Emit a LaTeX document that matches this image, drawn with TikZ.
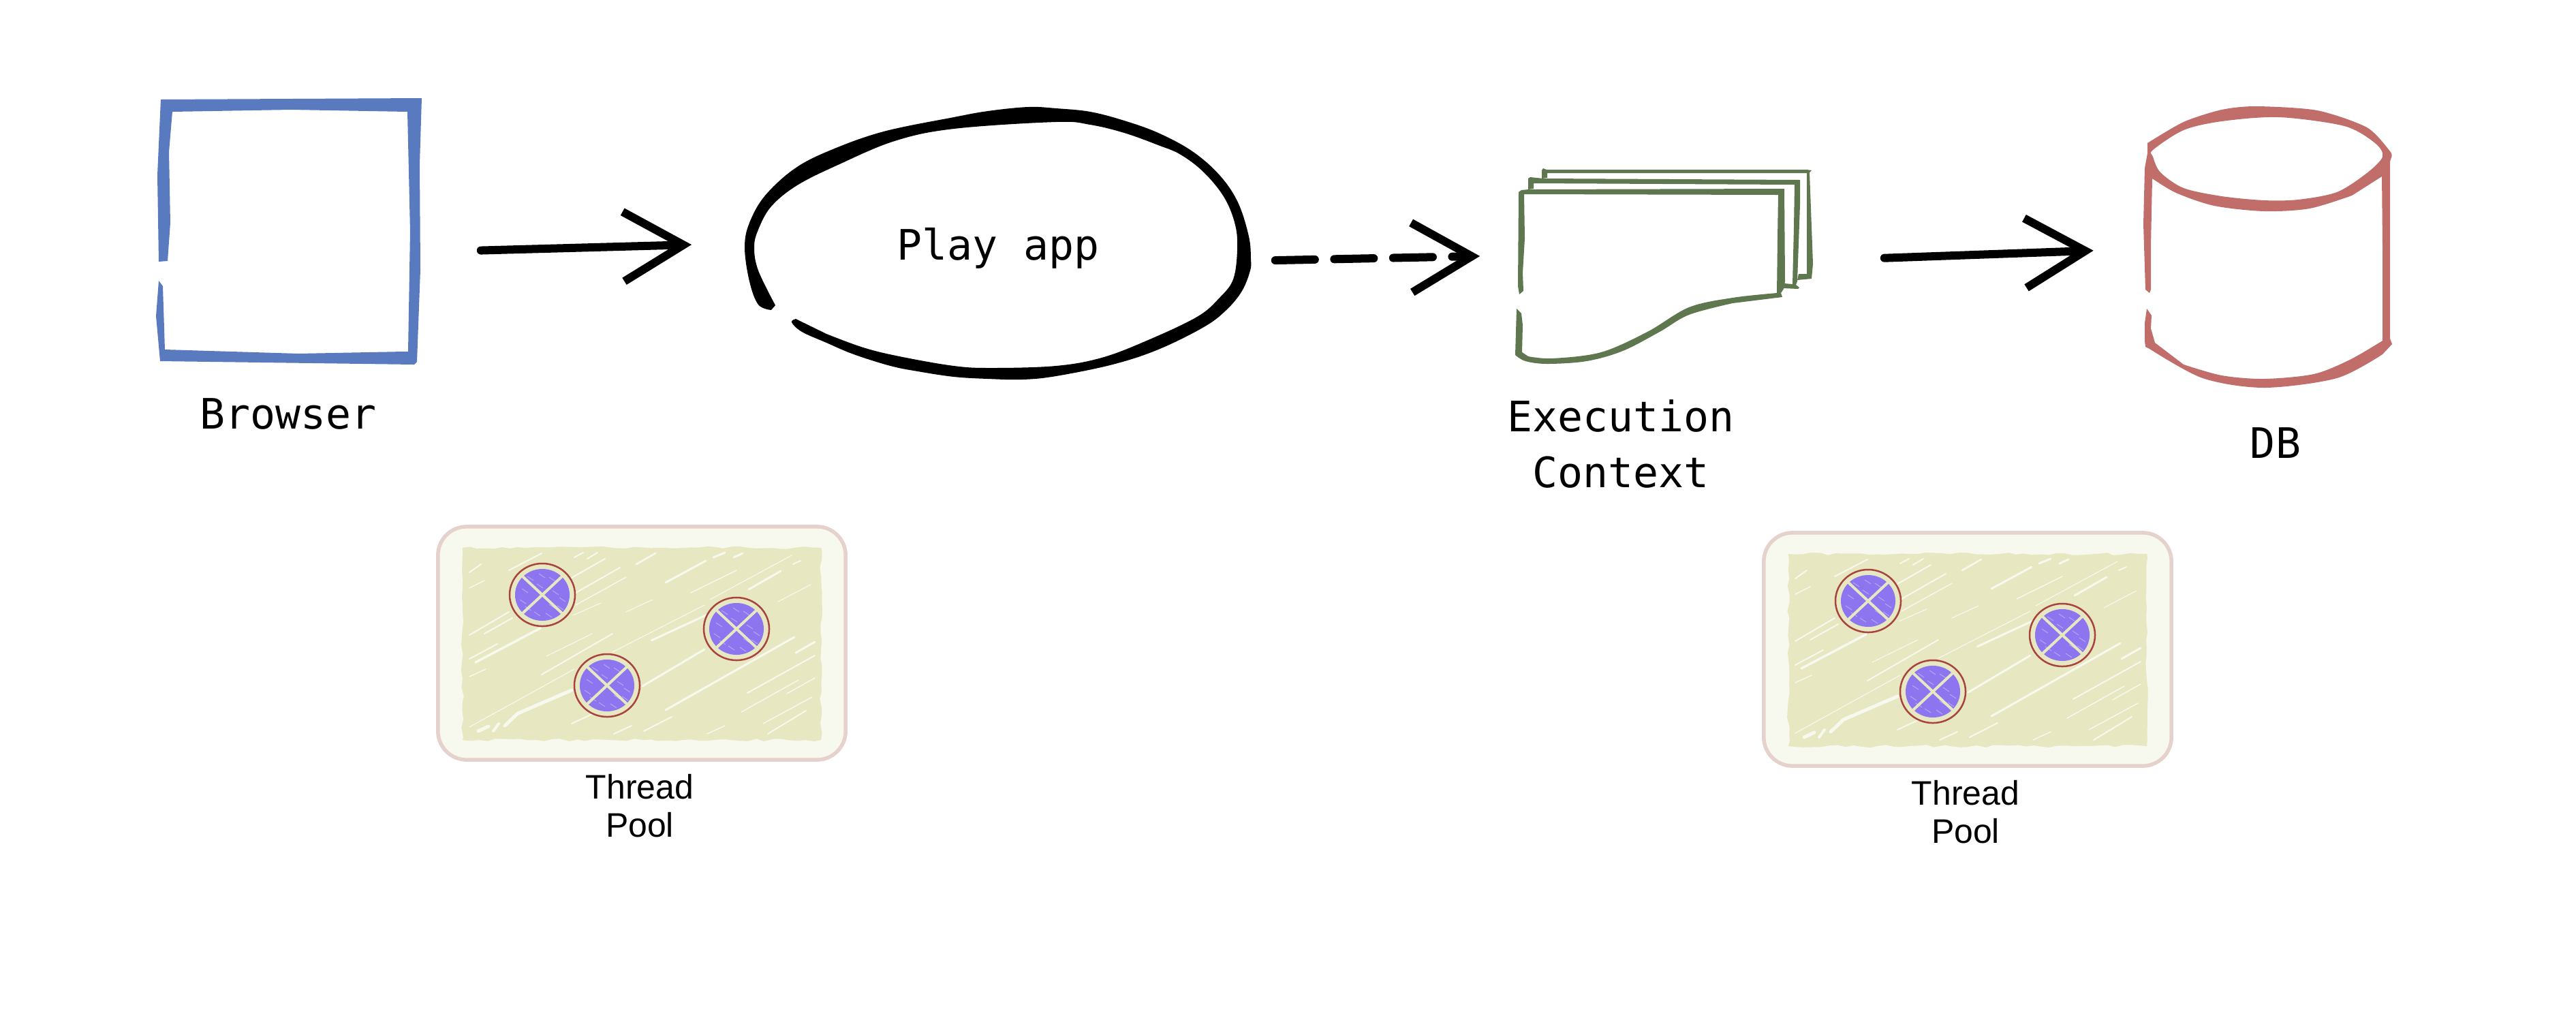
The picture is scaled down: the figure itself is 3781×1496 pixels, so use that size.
\documentclass[tikz,border=0pt]{standalone}
\usepackage{fontspec}
\usetikzlibrary{arrows.meta}
\usetikzlibrary{calc}
\usetikzlibrary{shapes.geometric}
\usetikzlibrary{decorations.pathmorphing}
\newfontfamily\monofnt{DejaVu Sans Mono}
\newfontfamily\helvfnt{Liberation Sans}
\definecolor{brblue}{HTML}{5A7ABF}
\definecolor{ecgreen}{HTML}{5E774E}
\definecolor{dbred}{HTML}{C16E6B}
\definecolor{poolline}{HTML}{E5D2CC}
\definecolor{poolfill}{HTML}{F7F9EE}
\definecolor{hatchfill}{HTML}{E7E7C1}
\definecolor{thrline}{HTML}{A8433D}
\definecolor{thrfill}{HTML}{8C75EE}
\definecolor{thrhatch}{HTML}{AFA1F4}
\tikzstyle{shp}=[inner sep=0pt]
\tikzstyle{lbl}=[inner sep=0pt,anchor=base,align=center,font=\monofnt\fontsize{17.5}{23.3}\selectfont]
\tikzstyle{cptn}=[inner sep=0pt,align=center,font=\helvfnt\fontsize{14.2}{15.9}\selectfont]
\tikzstyle{pool}=[shape=rectangle,draw=poolline,fill=poolfill,line width=.055cm,rounded corners=.42cm,inner sep=0pt,minimum width=5.98cm,minimum height=3.42cm]
\tikzstyle{hatch}=[shape=rectangle,fill=hatchfill,inner sep=0pt,minimum width=5.26cm,minimum height=2.82cm,decorate,decoration={random steps,segment length=.12cm,amplitude=.02cm}]
\tikzstyle{thr}=[shape=ellipse,draw=thrline,fill=hatchfill,line width=.025cm,inner sep=0pt,minimum width=.96cm,minimum height=.92cm]
\tikzstyle{dsk}=[shape=ellipse,fill=thrfill,inner sep=0pt,minimum width=.8cm,minimum height=.76cm]
\tikzstyle{crs}=[draw=hatchfill,line width=.04cm,shorten >=-.02cm,shorten <=-.02cm]
\tikzstyle{tran}=[draw,->,>={Straight Barb[length=.88cm,width=1.02cm]},line width=.12cm,line cap=round]
\newcommand{\scratches}{0.35/698/972/793/922,0.2/689/967/730/945,0.2/689/932/747/898,0.2/711/930/752/907,0.2/747/837/795/812,0.2/689/840/706/828,0.15/689/863/711/852,0.15/689/993/713/982,0.2/839/848/888/820,0.2/845/870/910/833,0.15/845/888/919/847,0.12/841/903/882/885,0.25/934/828/962/812,0.3/977/855/1036/823,0.15/1014/870/1081/837,0.3/1099/865/1146/838,0.12/1042/880/1162/815,0.12/919/898/958/880,0.3/956/940/1038/902,0.12/899/957/1034/888,0.12/802/963/869/930,0.2/795/990/899/930,0.12/689/1067/843/982,0.5/741/1065/760/1047,0.5/760/1047/839/1013,0.3/943/1007/1034/953,0.3/977/1042/1166/935,0.2/1097/1017/1196/962,0.15/1088/1045/1172/998,0.15/1155/1018/1196/995,0.15/1120/1062/1192/1023,0.2/1127/1077/1183/1043,0.2/945/1073/986/1052,0.2/839/1062/869/1048,0.2/901/1077/927/1065,0.15/1038/1077/1064/1065,0.3/1168/958/1196/942,0.12/1142/883/1190/858,0.2/1164/828/1175/823,0.3/1047/818/1064/811,0.3/1077/818/1090/812,0.2/843/818/856/811,0.2/862/820/877/811,0.5/702/1073/717/1066,0.4/724/1073/732/1062}

\begin{document}
\begin{tikzpicture}[x=.01cm,y=-.01cm]
\useasboundingbox (0,0) rectangle (3781,1496);
\pgfmathsetseed{42}

% places the connectors run between
\node[shp,shape=rectangle,minimum width=3.78cm,minimum height=3.91cm] (browser) at (424,340) {};
\node[shp,shape=ellipse,minimum width=7.44cm,minimum height=4cm] (play) at (1464,357) {};
\node[shp,shape=rectangle,minimum width=4.34cm,minimum height=2.87cm] (exec) at (2444,390) {};
\node[shp,shape=rectangle,minimum width=3.65cm,minimum height=4.13cm] (db) at (3328,362) {};

% browser
\fill[brblue] (233,384) -- (231,257) -- (236,146) -- (619,144) -- (616,241) -- (617,396) -- (612,531) -- (608,535) -- (235,530) -- (229,464) -- (233,412)
 -- (239,420) -- (242,513) -- (438,519) -- (593,516) -- (599,516) -- (602,340) -- (598,164) -- (427,161) -- (253,164) -- (248,223) -- (250,327) -- (246,383) -- cycle;

% play app
\fill[black] plot[smooth,tension=.6] coordinates {(1132,455) (1113,447) (1100,413) (1093,363) (1100,327) (1123,287) (1167,247) (1220,220) (1297,193) (1400,172) (1450,163) (1509,157) (1550,159) (1600,164) (1650,177) (1700,195) (1750,222) (1790,257) (1817,297) (1833,347) (1836,380) (1835,397) (1823,427) (1800,455) (1767,480) (1700,513) (1633,535) (1550,552) (1501,557) (1450,556) (1400,553) (1347,545) (1307,537) (1253,520) (1213,503) (1177,487) (1162,473) (1168,468)}
 -- plot[smooth,tension=.6] coordinates {(1213,490) (1267,510) (1320,523) (1400,537) (1456,540) (1550,537) (1617,525) (1683,500) (1757,465) (1790,437) (1810,410) (1816,367) (1813,330) (1797,290) (1767,253) (1733,227) (1700,213) (1650,195) (1600,183) (1550,179) (1400,189) (1313,207) (1230,242) (1170,272) (1132,303) (1113,337) (1107,363) (1113,397) (1138,448)} -- cycle;

% execution context, back to front
\fill[ecgreen] (2263,262) -- (2263,250) -- (2265,247) -- (2270,249) -- (2652,249) -- (2659,250) -- (2656,253) -- (2661,387) -- (2659,409) -- (2638,411) -- (2640,402) -- (2652,402) -- (2652,333) -- (2652,254) -- (2271,254) -- (2271,261) -- cycle;
\fill[ecgreen] (2243,278) -- (2243,262) -- (2246,260) -- (2265,262) -- (2642,264) -- (2642,300) -- (2638,413) -- (2636,418) -- (2641,422) -- (2639,424) -- (2618,423) -- (2619,416) -- (2631,417) -- (2633,333) -- (2634,271) -- (2251,269) -- (2251,277) -- cycle;
\fill[ecgreen] (2230,432) -- (2228,420) -- (2229,282) -- (2233,279) -- (2244,278) -- (2619,277) -- (2620,413) -- (2618,424) -- (2614,430) -- (2616,436)
 -- plot[smooth,tension=.55] coordinates {(2543,445) (2479,462) (2436,487) (2382,515) (2329,530) (2271,534) (2239,530) (2224,521)}
 -- (2226,453) -- (2233,460) -- (2235,477) -- (2234,517)
 -- plot[smooth,tension=.55] coordinates {(2243,523) (2279,526) (2350,517) (2418,487) (2479,451) (2543,437) (2608,430)}
 -- (2609,350) -- (2610,286) -- (2237,285) -- (2238,350) -- (2235,400) -- (2236,427) -- cycle;

% db
\fill[dbred,even odd rule] plot[smooth,tension=.45] coordinates {(3152,210) (3205,179) (3261,161) (3312,156) (3401,162) (3474,187) (3508,222) (3510,231)}
 -- (3508,237) -- (3508,497) -- (3511,505)
 -- plot[smooth,tension=.5] coordinates {(3497,520) (3430,555) (3323,569) (3233,555) (3155,512)}
 -- (3149,509) -- (3148,501) -- (3148,474) -- (3151,453) -- (3158,463) -- (3157,482) -- (3163,503)
 -- plot[smooth,tension=.5] coordinates {(3205,535) (3261,551) (3323,556) (3396,549) (3449,528) (3497,500)}
 -- (3497,360) -- (3496,259)
 -- plot[smooth,tension=.5] coordinates {(3452,287) (3390,306) (3323,310) (3250,302) (3194,283) (3159,262)}
 -- (3157,360) -- (3157,425) -- (3155,430) -- (3149,425) -- (3146,329) -- (3148,247) -- (3152,225) -- cycle
 plot[smooth cycle,tension=.5] coordinates {(3160,220) (3205,191) (3261,178) (3345,172) (3441,185) (3486,210) (3497,230) (3474,254) (3430,282) (3373,293) (3323,294) (3261,288) (3205,276) (3171,253) (3160,230)};

\draw[tran,shorten <=.92cm,shorten >=.76cm] (browser.-9) to (play.180);
\draw[tran,dash pattern=on .58cm off .285cm,shorten <=.38cm,shorten >=.54cm] (play.-4) to (exec.176);
\draw[tran,shorten <=1.04cm,shorten >=.72cm] (exec.2) to (db.181.5);

\node[lbl] (lbrowser) at (423,629) {Browser};
\node[lbl] (lplay) at (1465,381) {Play app};
\node[lbl] (lexec) at (2379,715) {Execution\\Context};
\node[lbl] (ldb) at (3340,672) {DB};

% the two pools
\foreach \ox/\oy/\p in {0/0/a,1946/9/b}{
\begin{scope}[shift={(\ox,\oy)}]
\node[pool] (pool\p) at (942,944) {};
\node[hatch] (hatch\p) at (942,945) {};
\foreach \w/\xa/\ya/\xb/\yb in \scratches
  \draw[poolfill,line width=\w mm,line cap=round] (\xa,\ya) -- (\xb,\yb);
\foreach \n/\tx/\ty in {1/796/873,2/1081/923,3/891/1006}{
  \node[thr] (thr\p\n) at (\tx,\ty) {};
  \node[dsk] (dsk\p\n) at (thr\p\n) {};
  \foreach \sx/\sy in {-22/-27,-5/-31,10/-26,-30/-9,-33/7,15/-6,25/4,22/16,-25/17,-12/25,5/27,10/14,-8/-16}
    \draw[thrhatch,line width=.012cm] ($(\tx,\ty)+(\sx,\sy)$) -- +(9,6);
  \draw[crs] (dsk\p\n.43) -- (dsk\p\n.223);
  \draw[crs] (dsk\p\n.137) -- (dsk\p\n.317);
}
\node[cptn] (cptn\p) at (939,1183) {Thread\\Pool};
\end{scope}
}
\end{tikzpicture}
\end{document}
